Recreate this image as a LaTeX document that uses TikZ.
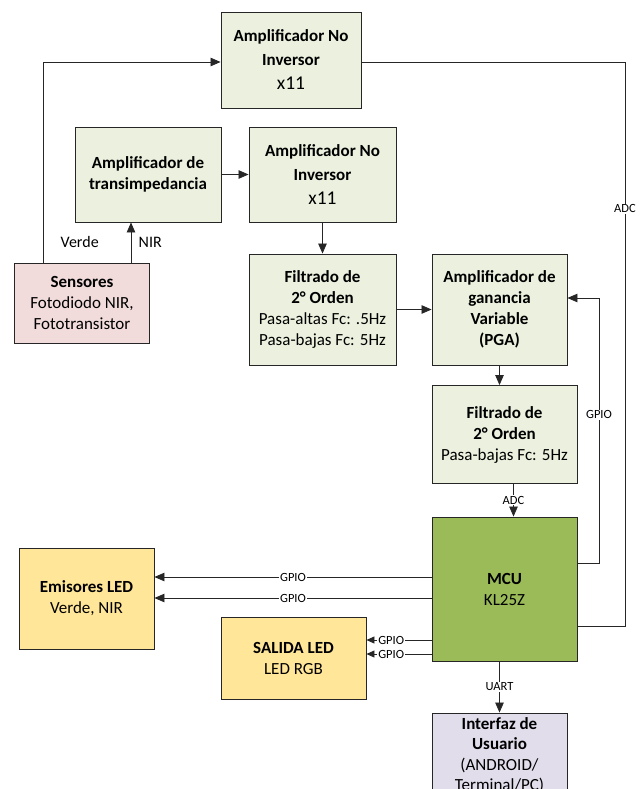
\documentclass[tikz,border=0pt]{standalone}
\usepackage{fontspec}
\setmainfont{Carlito}
\usepackage{tikz}
\usepackage{xcolor}
\usetikzlibrary{positioning, arrows.meta}

\definecolor{boxgreen}{HTML}{EBF1DE}
\definecolor{boxpink}{HTML}{F2DCDB}
\definecolor{boxyellow}{HTML}{FFE699}
\definecolor{boxmcu}{HTML}{9BBB59}
\definecolor{boxlila}{HTML}{E1DDEB}

\newcommand{\gain}{{\fontsize{19.5}{24}\selectfont x11}}

\begin{document}
\begin{tikzpicture}[x=1pt, y=-1pt, line width=0.9pt,
    blk/.style={draw=black!85, align=center, inner sep=2pt, font=\fontsize{17}{21}\selectfont},
    ampbox/.style={blk, fill=boxgreen, font=\fontsize{17}{24}\selectfont},
    greenbox/.style={blk, fill=boxgreen},
    sensbox/.style={blk, fill=boxpink},
    ledbox/.style={blk, fill=boxyellow},
    mcubox/.style={blk, fill=boxmcu},
    uibox/.style={blk, fill=boxlila, font=\fontsize{17}{20.5}\selectfont},
    lbl/.style={fill=white, inner sep=1pt, font=\fontsize{12.5}{14}\selectfont},
    sig/.style={line width=0.8pt, draw=black!85},
    arr/.style={-{Stealth[length=10pt, width=8.5pt, inset=0pt]}},
    arrsmall/.style={-{Stealth[length=8pt, width=7pt, inset=0pt]}}]
                    \useasboundingbox (0, 0) rectangle (643, 789);
                    \clip (0, 0) rectangle (643, 789);

                    \node[ampbox, minimum width=140pt, minimum height=96pt] (amp1) at (291, 60) {\textbf{Amplificador No}\\ \textbf{Inversor}\\ \gain};
                    \node[greenbox, minimum width=146pt, minimum height=95pt] (trans) at (148, 174.5) {\textbf{Amplificador de}\\ \textbf{transimpedancia}};
                    \node[ampbox, minimum width=147pt, minimum height=95pt] (amp2) at (322.5, 174.5) {\textbf{Amplificador No}\\ \textbf{Inversor}\\ \gain};
                    \node[sensbox, minimum width=135pt, minimum height=80pt] (sens) at (82, 303) {\textbf{Sensores}\\ Fotodiodo NIR,\\ Fototransistor};
                    \node[greenbox, minimum width=147pt, minimum height=111pt] (filt1) at (322.5, 309.5) {\textbf{Filtrado de}\\ \textbf{2° Orden}\\ Pasa-altas Fc: .5Hz\\ Pasa-bajas Fc: 5Hz};
                    \node[greenbox, minimum width=135pt, minimum height=111pt] (pga) at (499.5, 309.5) {\textbf{Amplificador de}\\ \textbf{ganancia}\\ \textbf{Variable}\\ \textbf{(PGA)}};
                    \node[greenbox, minimum width=145pt, minimum height=98pt] (filt2) at (504.5, 434.5) {\textbf{Filtrado de}\\ \textbf{2° Orden}\\ Pasa-bajas Fc: 5Hz};
                    \node[mcubox, minimum width=145pt, minimum height=144pt] (mcu) at (504.5, 589) {\textbf{MCU}\\ KL25Z};
                    \node[ledbox, minimum width=135pt, minimum height=101pt] (emis) at (86.5, 598.5) {\textbf{Emisores LED}\\ Verde, NIR};
                    \node[ledbox, minimum width=145pt, minimum height=82pt] (salida) at (293.5, 658) {\textbf{SALIDA LED}\\ LED RGB};
                    \node[uibox, minimum width=135pt, minimum height=84pt] (ui) at (499.5, 755) {\textbf{Interfaz de}\\ \textbf{Usuario}\\ (ANDROID/\\ Terminal/PC)};

                    \coordinate (adccorner) at (625, 626);
                    \coordinate (gpiocorner) at (599, 298);

                    % sensores
                    \draw[sig, arr] ([xshift=-39pt]sens.north) |- node[pos=0.05, right=14pt, font=\fontsize{16}{18}\selectfont] {Verde} ([yshift=-2pt]amp1.west);
                    \draw[sig, arr] ([xshift=49pt]sens.north) -- node[pos=0.5, right=4pt, font=\fontsize{16}{18}\selectfont] {NIR} ([xshift=49pt]sens.north |- trans.south);

                    % cadena analogica
                    \draw[sig, arr] (trans) -- (amp2);
                    \draw[sig, arr] (amp2) -- (filt1);
                    \draw[sig, arr] (filt1) -- (pga);
                    \draw[sig, arr] (pga.south) -- (pga.south |- filt2.north);
                    \draw[sig, arr] ([xshift=9pt]filt2.south) -- node[lbl] {ADC} ([xshift=9pt]filt2.south |- mcu.north);
                    \draw[sig] ([yshift=-2pt]amp1.east) -| node[lbl, pos=0.63] {ADC} (adccorner) -- ([yshift=-37pt]mcu.east);
                    \draw[sig, arr] ([yshift=26pt]mcu.east) -| node[lbl, pos=0.78] {GPIO} (gpiocorner) -- ([yshift=11.5pt]pga.east);

                    % salidas del MCU
                    \draw[sig, arr] ([yshift=12pt]mcu.west) -- node[lbl] {GPIO} ([yshift=12pt]mcu.west -| emis.east);
                    \draw[sig, arr] ([yshift=-9pt]mcu.west) -- node[lbl] {GPIO} ([yshift=-9pt]mcu.west -| emis.east);
                    \draw[sig, arrsmall] ([yshift=-51pt]mcu.west) -- node[lbl, pos=0.62] {GPIO} ([yshift=-51pt]mcu.west -| salida.east);
                    \draw[sig, arrsmall] ([yshift=-65pt]mcu.west) -- node[lbl, pos=0.62] {GPIO} ([yshift=-65pt]mcu.west -| salida.east);
                    \draw[sig, arr] (ui.north |- mcu.south) -- node[lbl] {UART} (ui.north);
                \end{tikzpicture}
\end{document}
